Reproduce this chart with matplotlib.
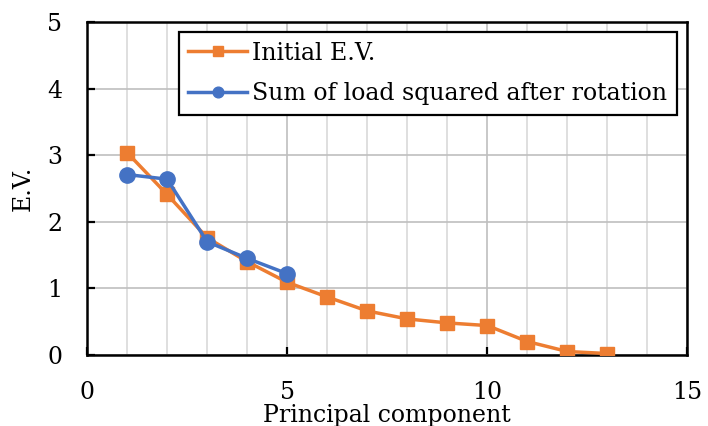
import numpy as np
import matplotlib.pyplot as plt
from matplotlib.ticker import MultipleLocator

# values
components = [1, 2, 3, 4, 5, 6, 7, 8, 9, 10, 11, 12, 13]
initial_ev = [3.04, 2.41, 1.76, 1.40, 1.09, 0.87, 0.66, 0.54, 0.48, 0.44, 0.20, 0.05, 0.02]
rotated_components = [1, 2, 3, 4, 5]
rotated_ss = [2.71, 2.64, 1.70, 1.45, 1.22]

plt.rcParams['font.family'] = ['DejaVu Serif']

fig = plt.figure(figsize=(7.08, 4.26), dpi=100)
ax = fig.add_axes([0.123, 0.167, 0.848, 0.781])

ax.plot(components, initial_ev, color="#ed7d31", linewidth=2.5, marker="s",
        markersize=10, label="Initial E.V.", zorder=3)
ax.plot(rotated_components, rotated_ss, color="#4472c4", linewidth=2.5, marker="o",
        markersize=11, label="Sum of load squared after rotation", zorder=4)

ax.set_xlim(0, 15)
ax.set_ylim(0, 5)
ax.xaxis.set_major_locator(MultipleLocator(5))
ax.xaxis.set_minor_locator(MultipleLocator(1))
ax.yaxis.set_major_locator(MultipleLocator(1))
ax.grid(which="minor", axis="x", color="#d9d9d9", linewidth=1.2)
ax.grid(which="major", axis="x", color="#bfbfbf", linewidth=1.2)
ax.grid(which="major", axis="y", color="#bfbfbf", linewidth=1.2)
ax.set_axisbelow(True)

for s in ax.spines.values():
    s.set_color("black")
    s.set_linewidth(1.8)

ax.tick_params(which="major", direction="in", length=6, width=1.6,
               labelsize=17)
ax.tick_params(which="minor", length=0)
ax.tick_params(axis="x", pad=19)
ax.tick_params(axis="y", pad=18)

ax.set_xlabel("Principal component", fontsize=17, labelpad=0)
ax.set_ylabel("E.V.", fontsize=17, labelpad=9)

leg = ax.legend(loc="upper right", bbox_to_anchor=(0.982, 0.97), borderaxespad=0,
                fontsize=17, fancybox=False, framealpha=1, edgecolor="black",
                handlelength=2.5, handletextpad=0.2, borderpad=0.4,
                labelspacing=0.75, markerscale=0.7)
leg.get_frame().set_linewidth(1.6)

fig.savefig("out.png", dpi=100)
